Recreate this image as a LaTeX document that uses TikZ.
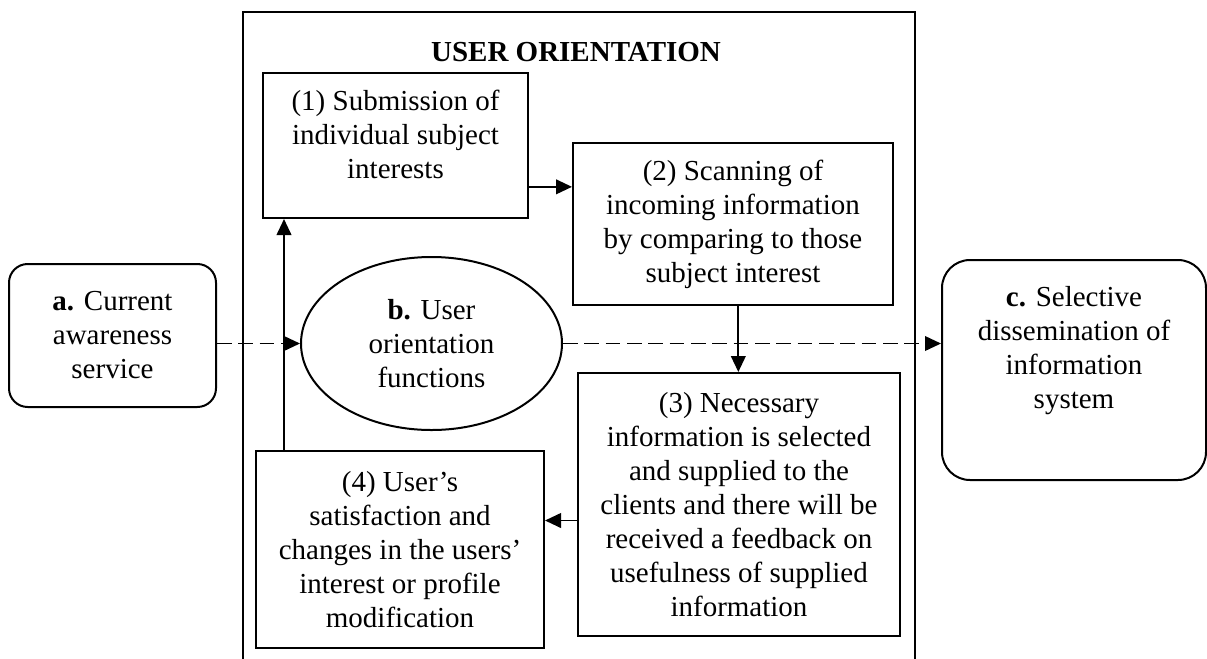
\documentclass[tikz,border=0pt]{standalone}
\usepackage{fontspec}
\setmainfont{Liberation Serif}
\usetikzlibrary{arrows.meta,shapes.geometric}
\tikzset{
  stage/.style={draw, line width=1.5pt, align=center, inner sep=0pt},
  flow/.style={line width=1.4pt, -{Triangle[length=12pt,width=11pt]}},
  dashflow/.style={flow, line width=1.2pt, dash pattern=on 11pt off 5pt}
}
\begin{document}
\begin{tikzpicture}[x=0.75pt, y=-0.75pt, font=\fontsize{21.75}{25.5}\selectfont]
    \useasboundingbox (0,0) rectangle (1207,658);
    \draw[line width=1.5pt] (243,664) -- (243,12) -- (915,12) -- (915,664);
    \node (title) at (576,52) {\bfseries USER ORIENTATION};
    \node[stage, minimum width=198.75pt, minimum height=108.75pt, text depth=17pt] (s1) at (395.5,145.5)
      {(1) Submission of\\individual subject\\interests};
    \node[stage, minimum width=240pt, minimum height=121.5pt] (s2) at (733,224)
      {(2) Scanning of\\incoming information\\by comparing to those\\subject interest};
    \node[stage, minimum width=241.5pt, minimum height=197.25pt] (s3) at (739,504.5)
      {(3) Necessary\\information is selected\\and supplied to the\\clients and there will be\\received a feedback on\\usefulness of supplied\\information};
    \node[stage, minimum width=216pt, minimum height=147.75pt] (s4) at (400,549.5)
      {(4) User’s\\satisfaction and\\changes in the users’\\interest or profile\\modification};
    \node[stage, ellipse, minimum width=195.75pt, minimum height=129.75pt] (uof) at (431.5,343.5)
      {\textbf{b.} User\\orientation\\functions};
    \node[stage, rounded corners=14pt, minimum width=155.25pt, minimum height=107.25pt] (cas) at (112.5,335.5)
      {\textbf{a.} Current\\awareness\\service};
    \node[stage, rounded corners=21pt, minimum width=198pt, minimum height=165pt, text depth=34pt] (sdi) at (1074,370)
      {\textbf{c.} Selective\\dissemination of\\information\\system};
    \draw[flow] ([yshift=-31pt]s1.east) -- ([yshift=-31pt]s1.east -| s2.west);
    \draw[flow] ([xshift=4pt]s2.south) -- ([xshift=4pt]s2.south |- s3.north);
    \draw[flow] ([yshift=-12pt]s3.west) -- ([yshift=-12pt]s3.west -| s4.east);
    \draw[flow] ([xshift=-87pt]s4.north) -- ([xshift=-87pt]s4.north |- s1.south);
    \draw[dashflow] (cas.east |- uof.west) -- (uof.west);
    \draw[dashflow] (uof.east) -- (uof.east -| sdi.west);
  \end{tikzpicture}
\end{document}
